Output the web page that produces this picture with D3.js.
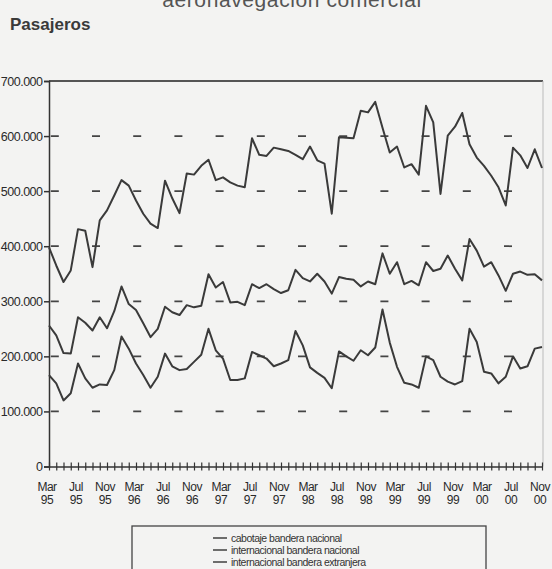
<!DOCTYPE html>
<html><head><meta charset="utf-8">
<script src="https://cdn.jsdelivr.net/npm/d3@7"></script>
<style>
html,body{margin:0;padding:0;background:#f3f3f2;}
svg{display:block;}
</style></head>
<body>
<svg id="c" width="552" height="569"></svg>
<script>
// ---- data (thousands of passengers) ----
const startMonth = new Date(1995, 2, 1);   // Mar 1995
const endMonth = new Date(2000, 11, 1);    // exclusive -> last = Nov 2000
const categories = d3.timeMonth.range(startMonth, endMonth).map(d3.timeFormat("%Y-%m"));

const cabotajeNacional = [398,365,335,356,431,428,362,447,465,492,520,510,483,459,441,433,519,487,460,532,530,546,557,520,525,516,510,507,596,566,564,579,576,573,566,558,581,556,550,459,598,597,596,646,643,662,615,570,581,543,549,530,655,625,495,601,617,642,585,561,546,528,507,474,579,565,542,576,542];
const internacionalExtranjera = [256,238,206,205,271,261,247,271,251,282,327,295,284,260,235,250,290,280,275,293,289,292,349,325,335,298,299,293,331,324,331,322,315,320,357,342,336,350,336,314,344,341,339,327,336,331,387,350,371,331,337,329,371,355,359,383,359,338,413,392,363,371,347,319,350,354,348,349,338];
const internacionalNacional = [166,151,120,133,187,160,143,149,148,175,236,214,187,166,143,163,205,182,175,177,190,203,250,211,196,157,157,160,208,202,196,182,187,193,246,220,180,170,161,142,209,200,192,211,202,216,285,225,181,152,149,143,200,193,163,154,149,155,250,226,172,169,151,163,200,178,182,214,217];

const yTicks = [0,100000,200000,300000,400000,500000,600000,700000];
const xTickMonths = ["Mar","Jul","Nov","Mar","Jul","Nov","Mar","Jul","Nov","Mar","Jul","Nov","Mar","Jul","Nov","Mar","Jul","Nov"];
const xTickYears  = ["95","95","95","96","96","96","97","97","97","98","98","98","99","99","99","00","00","00"];
const legendLabels = ["cabotaje bandera nacional","internacional bandera nacional","internacional bandera extranjera"];
const titleText = "aeronavegación comercial";
const yTitle = "Pasajeros";

const series = [cabotajeNacional, internacionalNacional, internacionalExtranjera];

// ---- layout ----
const svg = d3.select("#c");
const plotL = 49, plotR = 542, plotT = 81, plotB = 466.5;
const x = d3.scalePoint().domain(categories).range([plotL, plotR]);
const y = d3.scaleLinear().domain([0, 700000]).range([plotB, plotT]);
const ink = "#333";
const sans = "'Liberation Sans',Arial,sans-serif";
const narrow = "'Liberation Sans Narrow','Arial Narrow','Liberation Sans',sans-serif";

// title (cut at top)
svg.append("text").attr("x", 292).attr("y", 7).attr("text-anchor","middle")
  .attr("font-family", sans).attr("font-size",21).attr("letter-spacing","0.6")
  .attr("fill","#555").text(titleText);

svg.append("text").attr("x", 10).attr("y", 30)
  .attr("font-family", sans).attr("font-size",17).attr("font-weight","bold")
  .attr("fill","#3a3a3a").text(yTitle);

// dashed gridlines
svg.append("g").selectAll("line").data(yTicks.filter(d => d > 0 && d < 700000)).join("line")
  .attr("x1", plotL + 1).attr("x2", plotR).attr("y1", d => y(d)).attr("y2", d => y(d))
  .attr("stroke", "#444").attr("stroke-width", 1.7)
  .attr("stroke-dasharray", "8 33.2").attr("stroke-dashoffset", 40.4);

// frame: top and right
svg.append("line").attr("x1", plotL).attr("x2", plotR + 1).attr("y1", y(700000)).attr("y2", y(700000))
  .attr("stroke", "#555").attr("stroke-width", 1.8);
svg.append("line").attr("x1", plotR + 1).attr("x2", plotR + 1).attr("y1", y(700000)).attr("y2", plotB)
  .attr("stroke", "#bbb").attr("stroke-width", 1);

// y axis
const fmt = d3.formatLocale({decimal:",", thousands:".", grouping:[3], currency:["$",""]}).format(",");
const yAxis = svg.append("g").attr("transform", `translate(${plotL},0)`)
  .call(d3.axisLeft(y).tickValues(yTicks).tickFormat(d => fmt(d)).tickSize(5).tickPadding(1.5));
yAxis.select(".domain").attr("stroke", ink).attr("stroke-width", 1.5);
yAxis.selectAll(".tick line").attr("stroke", ink).attr("stroke-width", 1.5);
yAxis.selectAll(".tick text").attr("font-family", sans).attr("font-size", 12.5)
  .attr("fill", "#2a2a2a").attr("letter-spacing", "-0.5");

// x axis with crossing ticks
const xAxis = svg.append("g").attr("transform", `translate(0,${plotB})`)
  .call(d3.axisBottom(x).tickValues(categories).tickSize(4).tickSizeOuter(0).tickFormat(""));
xAxis.select(".domain").attr("stroke", ink).attr("stroke-width", 1.5);
xAxis.selectAll(".tick line").attr("y1", -4).attr("y2", 4).attr("stroke", ink).attr("stroke-width", 1.2);

// x labels
const labelCats = categories.filter((d, i) => i % 4 === 0);
const xl = svg.append("g").selectAll("g").data(labelCats).join("g")
  .attr("transform", d => `translate(${x(d) - 2},0)`);
xl.append("text").attr("y", 491).attr("text-anchor","middle").attr("font-family", narrow)
  .attr("font-size", 12).attr("fill","#2a2a2a").attr("letter-spacing","-0.5").text((d,i) => xTickMonths[i]);
xl.append("text").attr("y", 504).attr("text-anchor","middle").attr("font-family", narrow)
  .attr("font-size", 12).attr("fill","#2a2a2a").attr("letter-spacing","-0.5").text((d,i) => xTickYears[i]);

// lines
const line = d3.line().x((d, i) => x(categories[i])).y(d => y(d * 1000));
svg.append("g").selectAll("path").data(series).join("path")
  .attr("d", d => line(d)).attr("fill", "none").attr("stroke", "#3a3a3a")
  .attr("stroke-width", 2).attr("stroke-linejoin", "round");

// legend
const lg = svg.append("g");
lg.append("rect").attr("x", 132).attr("y", 526).attr("width", 354).attr("height", 50)
  .attr("fill", "none").attr("stroke", "#444").attr("stroke-width", 1.3);
const li = lg.selectAll("g.item").data(legendLabels).join("g").attr("class","item")
  .attr("transform", (d, i) => `translate(213,${538 + i * 12})`);
li.append("line").attr("x1", 0).attr("x2", 14).attr("stroke", ink).attr("stroke-width", 1.4);
li.append("text").attr("x", 18).attr("y", 3.5).attr("font-family", narrow).attr("font-size", 10.5)
  .attr("fill","#333").attr("letter-spacing","-0.5").text(d => d);
</script>
</body></html>
